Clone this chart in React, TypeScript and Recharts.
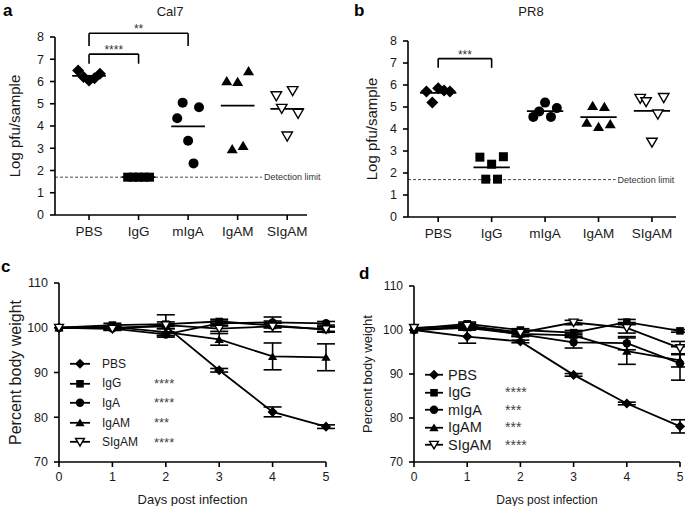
import React from "react";
import { ComposedChart, ErrorBar, Line, ReferenceLine, Scatter, ScatterChart, XAxis, YAxis } from "recharts";

const FONT = '"Liberation Sans", Arial, Helvetica, sans-serif';
const INK = "#1a1a1a";

const GROUPS = ["PBS", "IgG", "mIgA", "IgAM", "SIgAM"];
const GROUP_TICKS = [1, 2, 3, 4, 5];
const LOG_TICKS = [0, 1, 2, 3, 4, 5, 6, 7, 8];
const DETECTION = 1.7;

// lung titres, each column listed left to right as plotted
const cal7PBS = [6.5, 6.2, 6.05, 6.15, 6.35];
const cal7IgG = [1.7, 1.7, 1.7, 1.7, 1.7];
const cal7mIgA = [4.35, 5.05, 3.34, 2.32, 4.84];
const cal7IgAM = [6.02, 2.97, 5.99, 3.11, 6.47];
const cal7SIgAM = [5.36, 4.79, 3.55, 5.59, 4.57];

const pr8PBS = [5.7, 5.2, 5.85, 5.75, 5.7];
const pr8IgG = [2.72, 1.72, 2.4, 1.72, 2.74];
const pr8mIgA = [4.55, 4.8, 5.2, 4.55, 4.95];
const pr8IgAM = [4.29, 5.06, 4.1, 5.01, 4.23];
const pr8SIgAM = [5.39, 5.24, 3.4, 4.68, 5.43];

const cal7Brackets = [
  { from: 1, to: 3, top: 8.17, drop: 7.6, label: "**" },
  { from: 1, to: 2, top: 7.23, drop: 6.8, label: "****" },
];
const pr8Brackets = [{ from: 1, to: 2, top: 7.2, drop: 6.78, label: "***" }];

// body weight
const DAYS = [0, 1, 2, 3, 4, 5];
const WEIGHT_TICKS = [70, 80, 90, 100, 110];

const cNames = ["PBS", "IgG", "IgA", "IgAM", "SIgAM"];
const cStars = ["", "****", "****", "***", "****"];
const cPBS = [100, 100, 100.3, 90.5, 81.2, 77.9];
const cPBSErr = [0, 0, 0.5, 0.4, 1.1, 0.4];
const cIgG = [100, 100.6, 100.8, 101.4, 100.5, 99.6];
const cIgGErr = [0, 0.4, 0.5, 0.5, 0.5, 0.6];
const cIgA = [100, 99.8, 98.5, 101, 101.2, 101];
const cIgAErr = [0, 0.3, 0.6, 0.5, 1.2, 0.4];
const cIgAM = [100, 100.2, 99, 97.4, 93.6, 93.4];
const cIgAMErr = [0, 0.3, 0.8, 1.3, 3.0, 3.0];
const cSIgAM = [100, 99.8, 100.6, 99.8, 100.3, 99.7];
const cSIgAMErr = [0, 0.4, 2.3, 0.6, 1.2, 0.5];

const dNames = ["PBS", "IgG", "mIgA", "IgAM", "SIgAM"];
const dStars = ["", "****", "***", "***", "****"];
const dPBS = [100, 98.5, 97.4, 89.8, 83.3, 78.1];
const dPBSErr = [0, 1.5, 0.3, 0.3, 0.3, 1.5];
const dIgG = [100.3, 101.4, 100, 99.4, 101.8, 99.8];
const dIgGErr = [0, 0.4, 0.3, 0.5, 0.6, 0.3];
const dmIgA = [100, 100.8, 99, 97.2, 97, 92.4];
const dmIgAErr = [0, 0.5, 0.5, 1.3, 1.5, 3.8];
const dIgAM = [100, 100.5, 99.1, 98.8, 95.2, 93.1];
const dIgAMErr = [0, 0.5, 0.5, 0.5, 3.0, 1.5];
const dSIgAM = [100.5, 101, 99.4, 101.7, 100.5, 95.9];
const dSIgAMErr = [0, 0.5, 0.5, 0.5, 1.2, 1.5];

const KINDS = ["diamond", "square", "circle", "triangle", "down"];
const SPREAD = 0.11;

function Marker({ cx, cy, kind, r }: { cx?: number; cy?: number; kind: string; r: number }) {
  if (cx == null || cy == null) return null;
  if (kind === "diamond") {
    const d = r * 1.2;
    return <polygon points={`${cx},${cy - d} ${cx + d},${cy} ${cx},${cy + d} ${cx - d},${cy}`} fill="#000" />;
  }
  if (kind === "square") {
    return <rect x={cx - r * 0.9} y={cy - r * 0.9} width={r * 1.8} height={r * 1.8} fill="#000" />;
  }
  if (kind === "circle") return <circle cx={cx} cy={cy} r={r} fill="#000" />;
  if (kind === "triangle") {
    return <polygon points={`${cx},${cy - r} ${cx + r * 1.1},${cy + r * 0.85} ${cx - r * 1.1},${cy + r * 0.85}`} fill="#000" />;
  }
  return (
    <polygon
      points={`${cx - r * 1.05},${cy - r * 0.8} ${cx + r * 1.05},${cy - r * 0.8} ${cx},${cy + r}`}
      fill="#fff"
      stroke="#000"
      strokeWidth={1.4}
    />
  );
}

const mean = (vals: number[]) => vals.reduce((s, v) => s + v, 0) / vals.length;

function TitrePanel({ groups, domain, margin, xAxisHeight, labelOffset, limitEnd, brackets, width, height }: any) {
  const points = groups.map((vals: number[], gi: number) =>
    vals.map((v, i) => ({ x: gi + 1 + SPREAD * (i - (vals.length - 1) / 2), y: v })),
  );
  return (
    <ScatterChart width={width} height={height} margin={margin}>
      <XAxis
        type="number"
        dataKey="x"
        domain={domain}
        ticks={GROUP_TICKS}
        tickFormatter={(v) => GROUPS[v - 1]}
        height={xAxisHeight}
        tickSize={5}
        tickMargin={6}
        axisLine={{ stroke: "#000", strokeWidth: 1.6 }}
        tickLine={{ stroke: "#000", strokeWidth: 1.6 }}
        tick={{ fontSize: 13.5, fill: INK }}
        allowDataOverflow
      />
      <YAxis
        type="number"
        dataKey="y"
        domain={[0, 8]}
        ticks={LOG_TICKS}
        width={45}
        tickSize={5}
        tickMargin={6}
        axisLine={{ stroke: "#000", strokeWidth: 1.6 }}
        tickLine={{ stroke: "#000", strokeWidth: 1.6 }}
        tick={{ fontSize: 12.5, fill: INK }}
        label={{
          value: "Log pfu/sample",
          angle: -90,
          position: "insideLeft",
          offset: labelOffset,
          fontSize: 15,
          fill: INK,
          style: { textAnchor: "middle" },
        }}
      />
      <ReferenceLine
        segment={[
          { x: domain[0], y: DETECTION },
          { x: limitEnd, y: DETECTION },
        ]}
        stroke="#333"
        strokeWidth={0.9}
        strokeDasharray="3 2"
        ifOverflow="visible"
        label={{ value: "Detection limit", position: "right", offset: 2, fontSize: 9, fill: "#333" }}
      />
      {groups.map((vals: number[], gi: number) => (
        <ReferenceLine
          key={`mean-${gi}`}
          segment={[
            { x: gi + 1 - 0.34, y: mean(vals) },
            { x: gi + 1 + 0.34, y: mean(vals) },
          ]}
          stroke="#000"
          strokeWidth={1.8}
          ifOverflow="visible"
        />
      ))}
      {brackets.map((b: any, bi: number) => [
        <ReferenceLine
          key={`bt-${bi}`}
          segment={[
            { x: b.from, y: b.top },
            { x: b.to, y: b.top },
          ]}
          stroke="#000"
          strokeWidth={1.6}
          ifOverflow="visible"
          label={{ value: b.label, position: "top", offset: 0, fontSize: 12, fill: "#333" }}
        />,
        <ReferenceLine
          key={`bl-${bi}`}
          segment={[
            { x: b.from, y: b.top },
            { x: b.from, y: b.drop },
          ]}
          stroke="#000"
          strokeWidth={1.6}
          ifOverflow="visible"
        />,
        <ReferenceLine
          key={`br-${bi}`}
          segment={[
            { x: b.to, y: b.top },
            { x: b.to, y: b.drop },
          ]}
          stroke="#000"
          strokeWidth={1.6}
          ifOverflow="visible"
        />,
      ])}
      {points.map((pts: any[], gi: number) => (
        <Scatter
          key={GROUPS[gi]}
          name={GROUPS[gi]}
          data={pts}
          isAnimationActive={false}
          shape={(p: any) => <Marker cx={p.cx} cy={p.cy} kind={KINDS[gi]} r={5} />}
        />
      ))}
    </ScatterChart>
  );
}

function WeightLegend({ names, stars, left, top, rowH, fontSize, starSize, symW, gap, textW }: any) {
  return (
    <div style={{ position: "absolute", left, top, color: INK }}>
      {names.map((n: string, k: number) => (
        <div key={n} style={{ display: "flex", alignItems: "center", height: rowH }}>
          <svg width={symW} height={rowH} style={{ display: "block" }}>
            <line x1={2} x2={symW - 2} y1={rowH / 2} y2={rowH / 2} stroke="#000" strokeWidth={1.8} />
            <Marker cx={symW / 2} cy={rowH / 2} kind={KINDS[k]} r={4.2} />
          </svg>
          <span style={{ marginLeft: gap, width: textW, fontSize, lineHeight: 1 }}>{n}</span>
          <span style={{ fontSize: starSize, color: "#444", lineHeight: 1 }}>{stars[k]}</span>
        </div>
      ))}
    </div>
  );
}

function WeightPanel({ names, series, errs, width, height, margin, labelOffset, labelSize, tickSize, xLabelSize }: any) {
  const rows = DAYS.map((day, i) => {
    const row: any = { day };
    names.forEach((n: string, k: number) => {
      row[n] = series[k][i];
      row[`${n}_err`] = errs[k][i];
    });
    return row;
  });
  return (
    <ComposedChart width={width} height={height} margin={margin} data={rows}>
      <XAxis
        type="number"
        dataKey="day"
        domain={[0, 5]}
        ticks={DAYS}
        height={42}
        tickSize={5}
        tickMargin={5}
        axisLine={{ stroke: "#000", strokeWidth: 1.6 }}
        tickLine={{ stroke: "#000", strokeWidth: 1.6 }}
        tick={{ fontSize: tickSize, fill: INK }}
        label={{ value: "Days post infection", position: "insideBottom", offset: 0, fontSize: xLabelSize, fill: INK }}
      />
      <YAxis
        type="number"
        domain={[70, 110]}
        ticks={WEIGHT_TICKS}
        width={45}
        tickSize={5}
        tickMargin={6}
        axisLine={{ stroke: "#000", strokeWidth: 1.6 }}
        tickLine={{ stroke: "#000", strokeWidth: 1.6 }}
        tick={{ fontSize: tickSize, fill: INK }}
        label={{
          value: "Percent body weight",
          angle: -90,
          position: "insideLeft",
          offset: labelOffset,
          fontSize: labelSize,
          fill: INK,
          style: { textAnchor: "middle" },
        }}
      />
      {names.map((n: string, k: number) => (
        <Line
          key={n}
          type="linear"
          dataKey={n}
          stroke="#000"
          strokeWidth={1.8}
          isAnimationActive={false}
          activeDot={false}
          dot={(p: any) => <Marker key={`${n}-${p.index}`} cx={p.cx} cy={p.cy} kind={KINDS[k]} r={4.2} />}
        >
          <ErrorBar dataKey={`${n}_err`} width={9} stroke="#000" strokeWidth={1.6} direction="y" />
        </Line>
      ))}
    </ComposedChart>
  );
}

const panelLetter = { position: "absolute" as const, fontSize: 17, fontWeight: 700, color: "#000", lineHeight: 1 };
const panelTitle = { position: "absolute" as const, fontSize: 13, color: INK, lineHeight: 1, transform: "translateX(-50%)" };

export default function App() {
  return (
    <div
      style={{
        position: "absolute",
        left: 0,
        top: 0,
        width: 685,
        height: 506,
        background: "#fff",
        fontFamily: FONT,
        overflow: "hidden",
      }}
    >
      <div style={{ position: "absolute", left: 0, top: 0 }}>
        <TitrePanel
          groups={[cal7PBS, cal7IgG, cal7mIgA, cal7IgAM, cal7SIgAM]}
          domain={[0.313, 5.4]}
          width={340}
          height={250}
          margin={{ top: 37, right: 33, bottom: 5, left: 10 }}
          xAxisHeight={30}
          labelOffset={5}
          limitEnd={4.49}
          brackets={cal7Brackets}
        />
      </div>
      <div style={{ position: "absolute", left: 340, top: 0 }}>
        <TitrePanel
          groups={[pr8PBS, pr8IgG, pr8mIgA, pr8IgAM, pr8SIgAM]}
          domain={[0.435, 5.45]}
          width={345}
          height={250}
          margin={{ top: 41, right: 9, bottom: 5, left: 23 }}
          xAxisHeight={28}
          labelOffset={9}
          limitEnd={4.32}
          brackets={pr8Brackets}
        />
      </div>
      <div style={{ position: "absolute", left: 0, top: 250 }}>
        <WeightPanel
          names={cNames}
          series={[cPBS, cIgG, cIgA, cIgAM, cSIgAM]}
          errs={[cPBSErr, cIgGErr, cIgAErr, cIgAMErr, cSIgAMErr]}
          width={340}
          height={256}
          margin={{ top: 33, right: 14, bottom: 2, left: 14 }}
          labelOffset={1}
          labelSize={16}
          tickSize={12.5}
          xLabelSize={13}
        />
      </div>
      <div style={{ position: "absolute", left: 340, top: 250 }}>
        <WeightPanel
          names={dNames}
          series={[dPBS, dIgG, dmIgA, dIgAM, dSIgAM]}
          errs={[dPBSErr, dIgGErr, dmIgAErr, dIgAMErr, dSIgAMErr]}
          width={345}
          height={256}
          margin={{ top: 36, right: 5, bottom: 2, left: 29 }}
          labelOffset={-2}
          labelSize={13}
          tickSize={12}
          xLabelSize={12}
        />
      </div>
      <WeightLegend names={cNames} stars={cStars} left={68} top={354} rowH={19.6} fontSize={12} starSize={13} symW={24} gap={10} textW={52} />
      <WeightLegend names={dNames} stars={dStars} left={423} top={366} rowH={17.5} fontSize={14.5} starSize={14} symW={22} gap={3} textW={57} />
      <div style={{ ...panelLetter, left: 3, top: 2 }}>a</div>
      <div style={{ ...panelLetter, left: 354, top: 2 }}>b</div>
      <div style={{ ...panelLetter, left: 1, top: 258 }}>c</div>
      <div style={{ ...panelLetter, left: 359, top: 265 }}>d</div>
      <div style={{ ...panelTitle, left: 170, top: 5 }}>Cal7</div>
      <div style={{ ...panelTitle, left: 531, top: 5 }}>PR8</div>
    </div>
  );
}
